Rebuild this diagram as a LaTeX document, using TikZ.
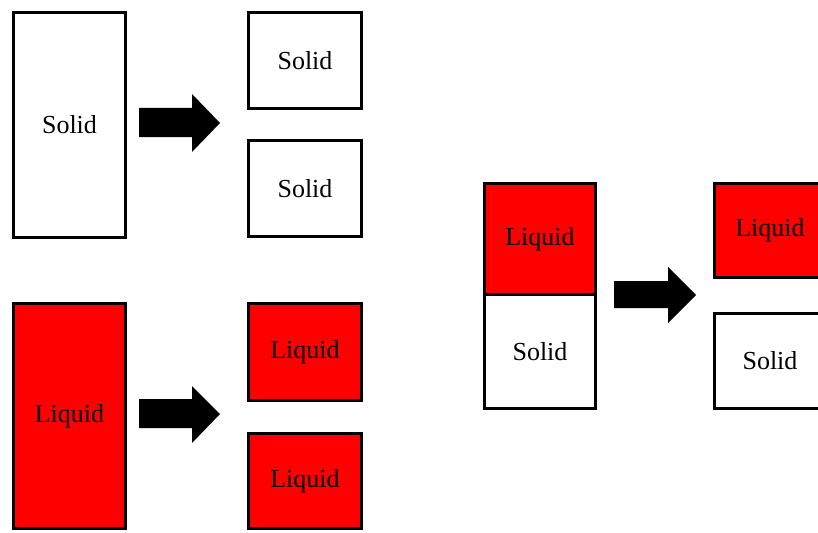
\documentclass[tikz,border=0pt]{standalone}
\usepackage{fontspec}
\setmainfont{Liberation Serif}
\begin{document}
\begin{tikzpicture}[x=1pt,y=-1pt,
  box/.style={draw=black,line width=2.5pt,inner sep=0pt,outer sep=0pt,fill=white,
    font=\fontsize{26}{30}\selectfont},
  liq/.style={box,fill=red},
  blockarrow/.style={fill=black,draw=none}]
\useasboundingbox (0,0) rectangle (818,532);
\clip (0,0) rectangle (818,532);
% top-left group
\node[box,minimum width=112pt,minimum height=225pt] (A) at (69.5,125) {Solid};
\node[box,minimum width=113pt,minimum height=96pt] (B1) at (305,60.5) {Solid};
\node[box,minimum width=113pt,minimum height=96pt] (B2) at (305,188.5) {Solid};
% bottom-left group
\node[liq,minimum width=112pt,minimum height=225pt] (C) at (69.5,416) {Liquid};
\node[liq,minimum width=113pt,minimum height=97pt] (D1) at (305,352) {Liquid};
\node[liq,minimum width=113pt,minimum height=95pt] (D2) at (305,481) {Liquid};
% right group
\node[liq,minimum width=111pt,minimum height=111pt] (E1) at (540,239) {Liquid};
\node[box,minimum width=111pt,minimum height=114pt] (E2) at (540,351.5) {Solid};
\node[liq,minimum width=111.5pt,minimum height=94pt] (F1) at (770,230.5) {Liquid};
\node[box,minimum width=111.5pt,minimum height=95pt] (F2) at (770,361) {Solid};
% block arrows
\fill[blockarrow] (139,108) -- (192,108) -- (192,94) -- (220,123) -- (192,152) -- (192,137) -- (139,137) -- cycle;
\fill[blockarrow] (139,399) -- (192,399) -- (192,386) -- (220,414) -- (192,443) -- (192,428) -- (139,428) -- cycle;
\fill[blockarrow] (614,281) -- (668,281) -- (668,267) -- (696,295) -- (668,323) -- (668,308) -- (614,308) -- cycle;
\end{tikzpicture}
\end{document}
